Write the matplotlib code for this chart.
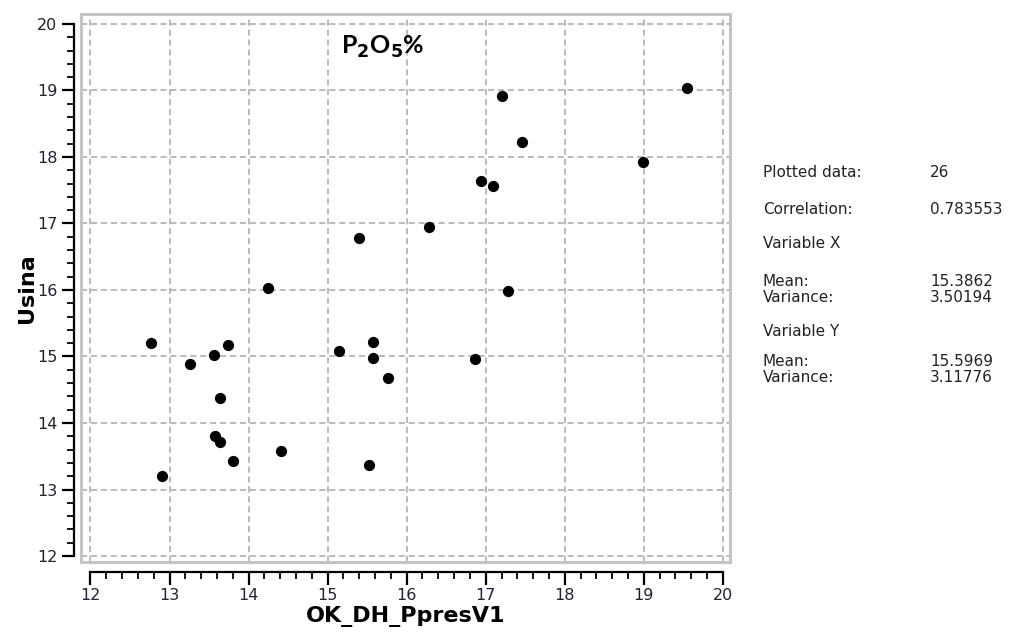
import matplotlib.pyplot as plt
from matplotlib.patches import Rectangle
from matplotlib.ticker import MultipleLocator

# data (OK_DH_PpresV1 vs Usina)
x_vals = [12.76, 12.91, 13.26, 13.56, 13.74, 13.64, 13.57, 13.64, 13.80, 14.41,
          14.25, 15.14, 15.58, 15.57, 15.76, 15.52, 16.87, 17.28, 15.40, 16.28,
          16.94, 17.09, 17.46, 17.20, 18.99, 19.54]
y_vals = [15.21, 13.21, 14.89, 15.02, 15.17, 14.38, 13.81, 13.71, 13.43, 13.58,
          16.03, 15.09, 15.22, 14.97, 14.67, 13.37, 14.96, 15.98, 16.78, 16.95,
          17.64, 17.57, 18.22, 18.92, 17.92, 19.03]

stat_labels = ["Plotted data:", "Correlation:", "Variable X", "Mean:", "Variance:",
               "Variable Y", "Mean:", "Variance:"]
stat_values = ["26", "0.783553", "", "15.3862", "3.50194", "", "15.5969", "3.11776"]
stat_rows_y = [172, 210, 244, 281, 297, 331, 361, 377]

fig = plt.figure(figsize=(10.18, 6.33), dpi=100)
ax = fig.add_axes([81 / 1018, 1 - 562 / 633, (730 - 81) / 1018, (562 - 14) / 633])

ax.scatter(x_vals, y_vals, s=50, color="black", zorder=3)

ax.set_xlim(11.88, 20.09)
ax.set_ylim(11.91, 20.15)

# grey frame around the plot area
ax.add_patch(Rectangle((0, 0), 1, 1, transform=ax.transAxes, fill=False,
                       edgecolor="#c4c4c4", linewidth=2.2, clip_on=False, zorder=4))

ax.grid(True, color="#a8a8a8", linestyle=(0, (4, 2.5)), linewidth=1.1)
ax.set_axisbelow(True)

for s in ["top", "right"]:
    ax.spines[s].set_visible(False)
ax.spines["left"].set_position(("outward", 5))
ax.spines["bottom"].set_position(("outward", 7))
ax.spines["left"].set_bounds(12, 20)
ax.spines["bottom"].set_bounds(12, 20)
ax.spines["left"].set_linewidth(1.6)
ax.spines["bottom"].set_linewidth(1.6)

ax.xaxis.set_major_locator(MultipleLocator(1))
ax.yaxis.set_major_locator(MultipleLocator(1))
ax.xaxis.set_minor_locator(MultipleLocator(0.2))
ax.yaxis.set_minor_locator(MultipleLocator(0.2))
ax.tick_params(which="major", length=9, width=1.6, direction="out", labelsize=11.5,
               labelcolor="#222233", pad=3)
ax.tick_params(which="minor", length=5, width=1.3, direction="out")

ax.set_xlabel("OK_DH_PpresV1", fontsize=16, fontweight="bold", labelpad=2)
ax.set_ylabel("Usina", fontsize=16, fontweight="bold", labelpad=0)

ax.text(0.465, 0.94, "P$_\\mathbf{2}$O$_\\mathbf{5}$%", transform=ax.transAxes,
        fontsize=18, fontweight="bold", ha="center", va="center", family="Lato")

for lab, val, py in zip(stat_labels, stat_values, stat_rows_y):
    fig.text(763 / 1018, 1 - py / 633, lab, fontsize=11, color="#222222", va="center")
    fig.text(930 / 1018, 1 - py / 633, val, fontsize=11, color="#222222", va="center")

fig.savefig("out.png", dpi=100)
